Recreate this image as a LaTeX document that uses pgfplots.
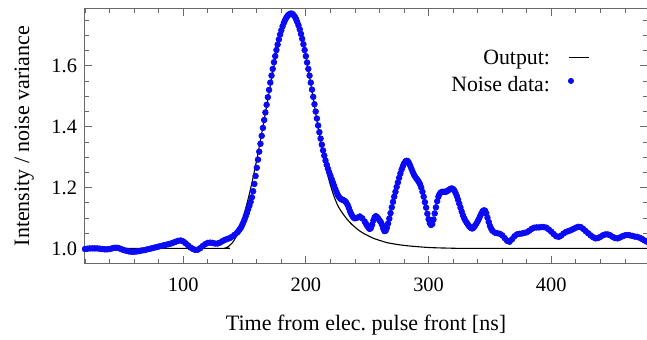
\documentclass[border=0pt]{standalone}
\usepackage{fontspec}
\setmainfont{Liberation Serif}
\usepackage{pgfplots}
\usepackage{pgfplotstable}
\pgfplotsset{compat=1.18}
\definecolor{framegray}{RGB}{105,105,105}
\definecolor{dotblue}{RGB}{10,10,245}

\pgfplotstableread{
t y
20 0.998
22 0.999
24 1.000
26 1.000
28 1.000
30 1.000
32 0.999
34 0.998
36 0.997
38 0.997
40 0.998
42 1.000
44 1.002
46 1.002
48 1.000
50 0.997
52 0.994
54 0.992
56 0.990
58 0.989
60 0.989
62 0.990
64 0.991
66 0.993
68 0.994
70 0.996
72 0.998
74 1.000
76 1.002
78 1.004
80 1.006
82 1.008
84 1.010
86 1.012
88 1.014
90 1.016
92 1.019
94 1.022
96 1.025
98 1.026
100 1.023
102 1.017
104 1.010
106 1.003
108 0.998
110 0.995
112 0.996
114 1.001
116 1.008
118 1.014
120 1.018
122 1.019
124 1.018
126 1.016
128 1.016
130 1.019
132 1.024
134 1.028
136 1.031
138 1.034
140 1.039
142 1.045
144 1.052
145 1.057
146 1.062
147 1.068
148 1.076
149 1.085
150 1.095
151 1.106
152 1.117
153 1.129
154 1.141
155 1.153
156 1.168
157 1.188
158 1.212
159 1.238
160 1.265
161 1.292
162 1.318
163 1.344
164 1.370
165 1.396
166 1.422
167 1.447
168 1.472
169 1.497
170 1.521
171 1.545
172 1.568
173 1.590
174 1.612
175 1.632
176 1.652
177 1.670
178 1.687
179 1.703
180 1.717
181 1.730
182 1.741
183 1.750
184 1.758
185 1.764
186 1.768
187 1.771
188 1.772
189 1.771
190 1.767
191 1.762
192 1.754
193 1.744
194 1.733
195 1.720
196 1.705
197 1.689
198 1.671
199 1.652
200 1.632
201 1.611
202 1.590
203 1.568
204 1.545
205 1.522
206 1.498
207 1.474
208 1.450
209 1.427
210 1.404
211 1.382
212 1.361
213 1.341
214 1.322
215 1.305
216 1.289
217 1.275
218 1.262
219 1.250
220 1.239
221 1.228
222 1.217
223 1.206
224 1.195
225 1.185
226 1.176
227 1.169
228 1.164
229 1.161
230 1.160
231 1.158
232 1.155
233 1.150
234 1.143
235 1.133
236 1.122
237 1.113
238 1.106
239 1.101
240 1.099
242 1.101
244 1.105
246 1.099
248 1.088
249 1.081
250 1.074
251 1.068
252 1.064
253 1.067
254 1.078
255 1.092
256 1.102
257 1.106
258 1.103
259 1.098
260 1.092
261 1.087
262 1.078
263 1.066
264 1.057
265 1.058
266 1.068
267 1.082
268 1.098
269 1.116
270 1.135
271 1.153
272 1.170
273 1.186
274 1.202
275 1.217
276 1.232
277 1.246
278 1.259
279 1.270
280 1.279
281 1.285
282 1.288
283 1.287
284 1.281
285 1.272
286 1.262
287 1.252
288 1.243
289 1.236
290 1.230
291 1.225
292 1.219
293 1.211
294 1.200
295 1.186
296 1.170
297 1.152
298 1.134
299 1.114
300 1.096
301 1.083
302 1.077
303 1.080
304 1.095
305 1.115
306 1.135
307 1.155
308 1.170
309 1.179
310 1.184
311 1.186
312 1.186
313 1.186
314 1.186
315 1.188
316 1.191
317 1.194
318 1.196
319 1.197
320 1.195
321 1.190
322 1.182
323 1.172
324 1.160
325 1.147
326 1.134
327 1.121
328 1.109
329 1.099
330 1.091
331 1.085
332 1.079
333 1.073
334 1.069
335 1.066
336 1.066
337 1.070
338 1.076
339 1.082
340 1.089
341 1.097
342 1.106
343 1.115
344 1.122
345 1.125
346 1.124
347 1.115
348 1.101
349 1.087
350 1.074
351 1.065
352 1.058
354 1.052
356 1.050
358 1.048
360 1.043
362 1.034
364 1.025
366 1.022
368 1.030
370 1.040
372 1.046
374 1.048
376 1.049
378 1.051
380 1.053
382 1.058
384 1.064
386 1.068
388 1.069
390 1.069
392 1.070
394 1.070
396 1.068
398 1.062
400 1.055
402 1.047
404 1.040
406 1.038
408 1.042
410 1.049
412 1.054
414 1.057
416 1.060
418 1.064
420 1.068
422 1.071
424 1.070
426 1.064
428 1.057
430 1.050
432 1.043
434 1.037
436 1.033
438 1.034
440 1.038
442 1.043
444 1.046
446 1.046
448 1.043
450 1.038
452 1.034
454 1.033
456 1.036
458 1.040
460 1.043
462 1.044
464 1.043
466 1.041
468 1.039
470 1.038
472 1.035
474 1.031
476 1.026
478 1.022
}\noisedata

\pgfplotstableread{
t y
20 1.000
130 1.000
134 1.001
136 1.004
138 1.010
140 1.018
142 1.030
144 1.046
146 1.066
148 1.090
150 1.118
152 1.148
154 1.180
156 1.215
158 1.253
160 1.292
162 1.335
164 1.378
166 1.422
168 1.467
170 1.512
172 1.556
174 1.599
176 1.640
178 1.677
180 1.710
182 1.737
184 1.755
186 1.766
188 1.770
190 1.765
192 1.751
194 1.730
196 1.702
198 1.668
200 1.629
202 1.586
204 1.540
206 1.492
208 1.444
210 1.397
212 1.352
214 1.310
216 1.272
218 1.238
220 1.208
222 1.182
224 1.160
226 1.141
228 1.127
230 1.115
232 1.104
234 1.094
236 1.085
238 1.077
240 1.070
242 1.063
244 1.057
246 1.052
248 1.047
250 1.043
254 1.035
258 1.029
262 1.024
266 1.019
270 1.016
276 1.012
282 1.009
290 1.006
300 1.003
310 1.0015
320 1.0008
335 1.000
478 1.000
}\outputdata

\begin{document}
\begin{tikzpicture}
\begin{axis}[
  at={(0,0)}, anchor=south west,
  scale only axis, width=281pt, height=127pt,
  xmin=20, xmax=478, ymin=0.952, ymax=1.787,
  axis line style={framegray, line width=0.5pt},
  xtick={100,200,300,400},
  minor xtick={20,40,60,80,120,140,160,180,220,240,260,280,320,340,360,380,420,440,460},
  ytick={1.0,1.2,1.4,1.6},
  minor ytick={0.95,1.05,1.1,1.15,1.25,1.3,1.35,1.45,1.5,1.55,1.65,1.7,1.75},
  major tick length=3.5pt, minor tick length=2pt,
  every tick/.style={framegray, line width=0.4pt},
  tick align=inside,
  /pgf/number format/assume math mode=true,
  ticklabel style={font=\fontsize{10.2}{12}\selectfont},
  xticklabel style={anchor=base, yshift=-14.3pt, inner sep=0pt},
  yticklabel style={anchor=east, xshift=-3.8pt, inner sep=0pt,
    /pgf/number format/fixed, /pgf/number format/fixed zerofill,
    /pgf/number format/precision=1},
  xlabel={Time from elec.\ pulse front [ns]},
  ylabel={Intensity / noise variance},
  label style={font=\fontsize{11}{13}\selectfont},
  xlabel style={at={(axis description cs:0.5,-0.2638)}, anchor=base, inner sep=0pt},
  ylabel style={at={(axis description cs:-0.0996,0.5)}, anchor=base, inner sep=0pt},
  legend plot pos=right,
  legend cell align=right,
  legend style={draw=none, fill=none, inner sep=0pt, outer sep=0pt,
    at={(axis description cs:0.897,0.8369)}, anchor=north east,
    font=\fontsize{10.9}{13}\selectfont,
    nodes={inner sep=0pt, text height=0.7em, text depth=0.15em},
    column sep=9pt, row sep=5pt},
]
\addlegendimage{legend image code/.code={\draw[black, line width=0.55pt] (0pt,0.9pt) -- (10pt,0.9pt);}}
\addlegendentry{Output:}
\addlegendimage{legend image code/.code={\fill[white, opacity=0] (0pt,-0.2pt) rectangle (10pt,0.2pt); \fill[dotblue] (1.2pt,2.5pt) circle (1.3pt);}}
\addlegendentry{Noise data:}
\addplot[forget plot, only marks, color=dotblue, mark=*, mark size=1.4pt,
  mark options={draw=none, fill=dotblue}]
  table[x=t, y=y] {\noisedata};
\addplot[forget plot, black, line width=0.55pt, smooth, no marks]
  table[x=t, y=y] {\outputdata};
\end{axis}
\pgfresetboundingbox
\useasboundingbox (-42.5pt,-38pt) rectangle (281pt,131.5pt);
\end{tikzpicture}
\end{document}
